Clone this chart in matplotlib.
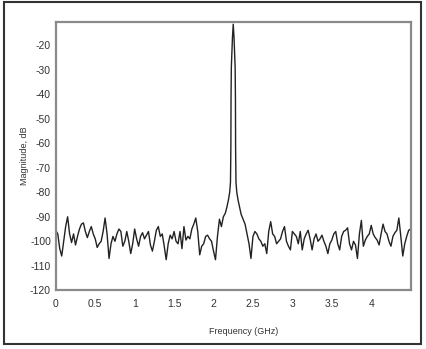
import numpy as np
import matplotlib
matplotlib.use("Agg")
import matplotlib.pyplot as plt
from matplotlib.patches import Rectangle

# ---- data ----
step = 0.025  # GHz spacing of the noise-floor samples

mag_left = [-95.5, -97, -103, -106, -100, -94, -90, -97, -100.5, -97,
            -101.5, -98, -95, -93, -92.5, -96, -98.5, -96, -94, -97,
            -99, -102.5, -101, -100, -96, -90.5, -97, -107, -101, -98,
            -100, -97, -95, -96, -102, -100, -96, -100, -105, -101,
            -95, -99, -102, -98, -96.5, -99, -97.5, -96, -101.5, -104,
            -100, -95.5, -94, -98, -97, -102, -107.5, -101, -97.5, -99,
            -96, -100, -101, -96, -103, -94, -99.5, -98, -99, -95,
            -93, -90.5, -96, -105.5, -102, -101, -98, -97.5, -99, -100,
            -104, -107.5, -98, -91, -94, -90]

peak_freq = [2.15, 2.17, 2.19, 2.205, 2.215, 2.22, 2.222, 2.226, 2.24, 2.25,
             2.26, 2.274, 2.278, 2.28, 2.285, 2.295, 2.31, 2.33, 2.35]
peak_mag = [-88.5, -86, -83, -80, -76, -62, -42, -29, -17, -11.5,
            -17, -29, -42, -62, -76, -80, -83, -86, -89]

right_start = 2.375
mag_right = [-91, -93, -97, -101, -107, -98, -96, -97, -99, -100,
             -102, -101, -105, -96, -92, -97, -98, -101, -100, -99,
             -96, -94, -100, -102, -103.5, -96, -97, -98, -101, -96,
             -103.5, -99, -97, -95.5, -99, -103.5, -99, -97, -100, -99,
             -97.5, -100, -102, -105, -101, -99.5, -97, -96, -101, -103.5,
             -98, -96, -95.5, -94.5, -101, -103.5, -100, -101.5, -107, -97,
             -91.5, -102, -99.5, -98, -97, -93.5, -97, -98.5, -99.5, -101.5,
             -97, -93, -96, -97, -100, -102, -98, -96.5, -95.5, -90.5,
             -98, -106, -101, -98, -95.5, -95]

x_ticks = [0, 0.5, 1, 1.5, 2, 2.5, 3, 3.5, 4]
x_tick_labels = ["0", "0.5", "1", "1.5", "2", "2.5", "3", "3.5", "4"]
y_ticks = [-120, -110, -100, -90, -80, -70, -60, -50, -40, -30, -20]
y_tick_labels = [str(v) for v in y_ticks]

freq_left = np.arange(len(mag_left)) * step
freq_right = right_start + np.arange(len(mag_right)) * step
freq = np.concatenate([freq_left, peak_freq, freq_right])
mag = np.concatenate([mag_left, peak_mag, mag_right])

# ---- figure ----
plt.rcParams['font.family'] = ['Liberation Sans', 'DejaVu Sans']
fig = plt.figure(figsize=(4.26, 3.49), dpi=100)
ax = fig.add_axes([0.131, 0.168, 0.833, 0.769])

ax.plot(freq, mag, color="#222222", linewidth=1.0)

ax.set_xlim(0, 4.5)
ax.set_ylim(-120, -10.6)
ax.set_xticks(x_ticks)
ax.set_xticklabels(x_tick_labels)
ax.set_yticks(y_ticks)
ax.set_yticklabels(y_tick_labels)
ax.tick_params(axis="both", length=0, labelsize=7.5, labelcolor="#333333")
ax.tick_params(axis="x", pad=6)
ax.tick_params(axis="y", pad=3.5)

for s in ax.spines.values():
    s.set_color("#8a8a8a")
    s.set_linewidth(1.6)

ax.set_xlabel("Frequency (GHz)", fontsize=6.5, color="#333333")
ax.set_ylabel("Magnitude, dB", fontsize=6.5, color="#333333")
ax.xaxis.set_label_coords(0.529, -0.135)
ax.yaxis.set_label_coords(-0.076, 0.5)

fig.patches.append(Rectangle((4 / 426, 5 / 349), 417 / 426, 342 / 349,
                             transform=fig.transFigure, fill=False,
                             edgecolor="#333333", linewidth=1.5))

fig.savefig("out.png", dpi=100)
